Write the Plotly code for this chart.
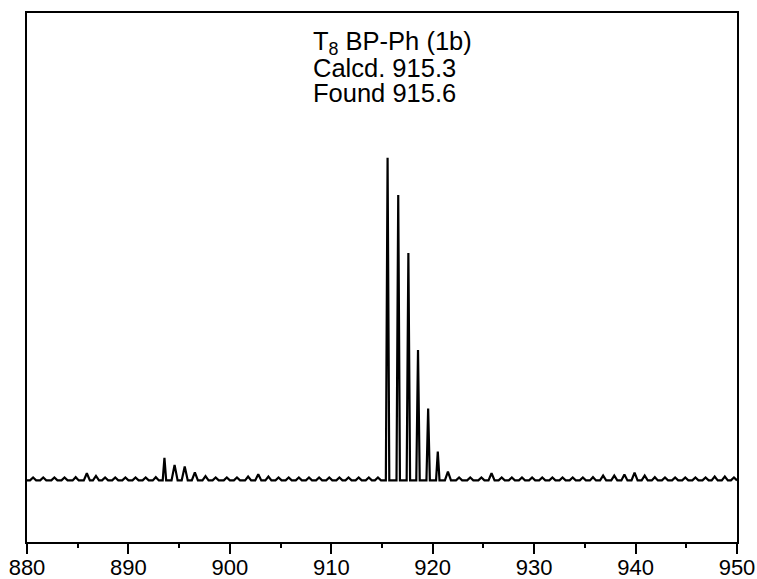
import plotly.graph_objects as go

# m/z positions and relative intensities
peak_mz = [
    880.6, 881.6, 882.7, 883.7, 884.8, 885.9, 886.8, 887.7, 888.7, 889.7,
    890.7, 891.7, 892.7,
    893.55, 894.55, 895.55, 896.55,
    897.6, 898.6, 899.7, 900.7, 901.8, 902.8, 903.8, 904.8, 905.8, 906.8,
    907.8, 908.8, 909.8, 910.8, 911.7, 912.7, 913.7, 914.6,
    915.55, 916.6, 917.6, 918.55, 919.55, 920.5, 921.5,
    922.6, 923.7, 924.8, 925.8, 926.8, 927.8, 928.8, 929.8, 930.8, 931.8,
    932.8, 933.8, 934.8, 935.8, 936.8, 937.9, 938.9, 939.9, 940.9, 941.9,
    942.9, 943.9, 944.9, 945.9, 946.9, 947.8, 948.8, 949.7,
]
peak_int = [
    0.9, 0.9, 0.9, 0.9, 1.0, 2.2, 1.4, 0.9, 0.9, 0.9,
    0.9, 0.9, 1.0,
    7.0, 4.8, 4.3, 2.5,
    1.3, 0.9, 0.9, 0.9, 1.2, 1.9, 1.2, 0.9, 0.9, 0.9,
    0.9, 0.9, 0.9, 0.9, 0.9, 0.9, 0.9, 0.9,
    100.0, 88.5, 70.5, 40.4, 22.3, 8.9, 2.7,
    0.9, 0.9, 0.9, 2.2, 0.9, 0.9, 0.9, 0.9, 0.9, 0.9,
    0.9, 0.9, 0.9, 1.0, 1.5, 1.5, 1.8, 2.4, 1.5, 1.0,
    0.9, 0.9, 0.9, 0.9, 0.9, 1.2, 1.2, 0.9,
]

x_range = [880, 950]
x_ticks = [880, 890, 900, 910, 920, 930, 940, 950]

label_lines = ["T<sub>8</sub> BP-Ph (1b)", "Calcd. 915.3", "Found 915.6"]

# build the profile: each peak is a narrow spike back down to baseline
xs, ys = [x_range[0]], [0]
for m, h in zip(peak_mz, peak_int):
    w = 0.17 if h > 5 else 0.3
    xs += [m - w, m, m + w]
    ys += [0, h, 0]
xs.append(x_range[1])
ys.append(0)

fig = go.Figure()
fig.add_trace(go.Scatter(
    x=xs, y=ys, mode="lines",
    line=dict(color="black", width=2.2),
    showlegend=False, hoverinfo="skip",
))

# text block, one annotation per line to keep the spacing tight
for i, txt in enumerate(label_lines):
    fig.add_annotation(
        x=908.0, xref="x", y=0.943 - i * 0.047, yref="paper",
        text=txt, showarrow=False, xanchor="left", yanchor="middle",
        font=dict(family="Liberation Sans, Arial", size=25.5, color="black"),
    )

fig.update_xaxes(
    range=x_range, tickvals=x_ticks, automargin=False,
    ticks="outside", ticklen=10, tickwidth=2, tickcolor="black",
    ticklabelstandoff=-5,
    minor=dict(dtick=5, tick0=880, ticks="outside", ticklen=4, tickwidth=2, tickcolor="black"),
    showline=True, linecolor="black", linewidth=2, mirror=True,
    showgrid=False, zeroline=False,
    tickfont=dict(family="Liberation Sans, Arial", size=22, color="black"),
)
fig.update_yaxes(
    range=[-19.1, 144.9], automargin=False,
    showticklabels=False, ticks="",
    showline=True, linecolor="black", linewidth=2, mirror=True,
    showgrid=False, zeroline=False,
)

fig.update_layout(
    width=757, height=579,
    margin=dict(l=27, r=20, t=13, b=37),
    plot_bgcolor="white", paper_bgcolor="white",
)

# drop the page's default body margin so the figure sits at the window corner
fig.write_html(
    "out.html",
    config={"displayModeBar": False},
    post_script="document.body.style.margin='0';",
)
